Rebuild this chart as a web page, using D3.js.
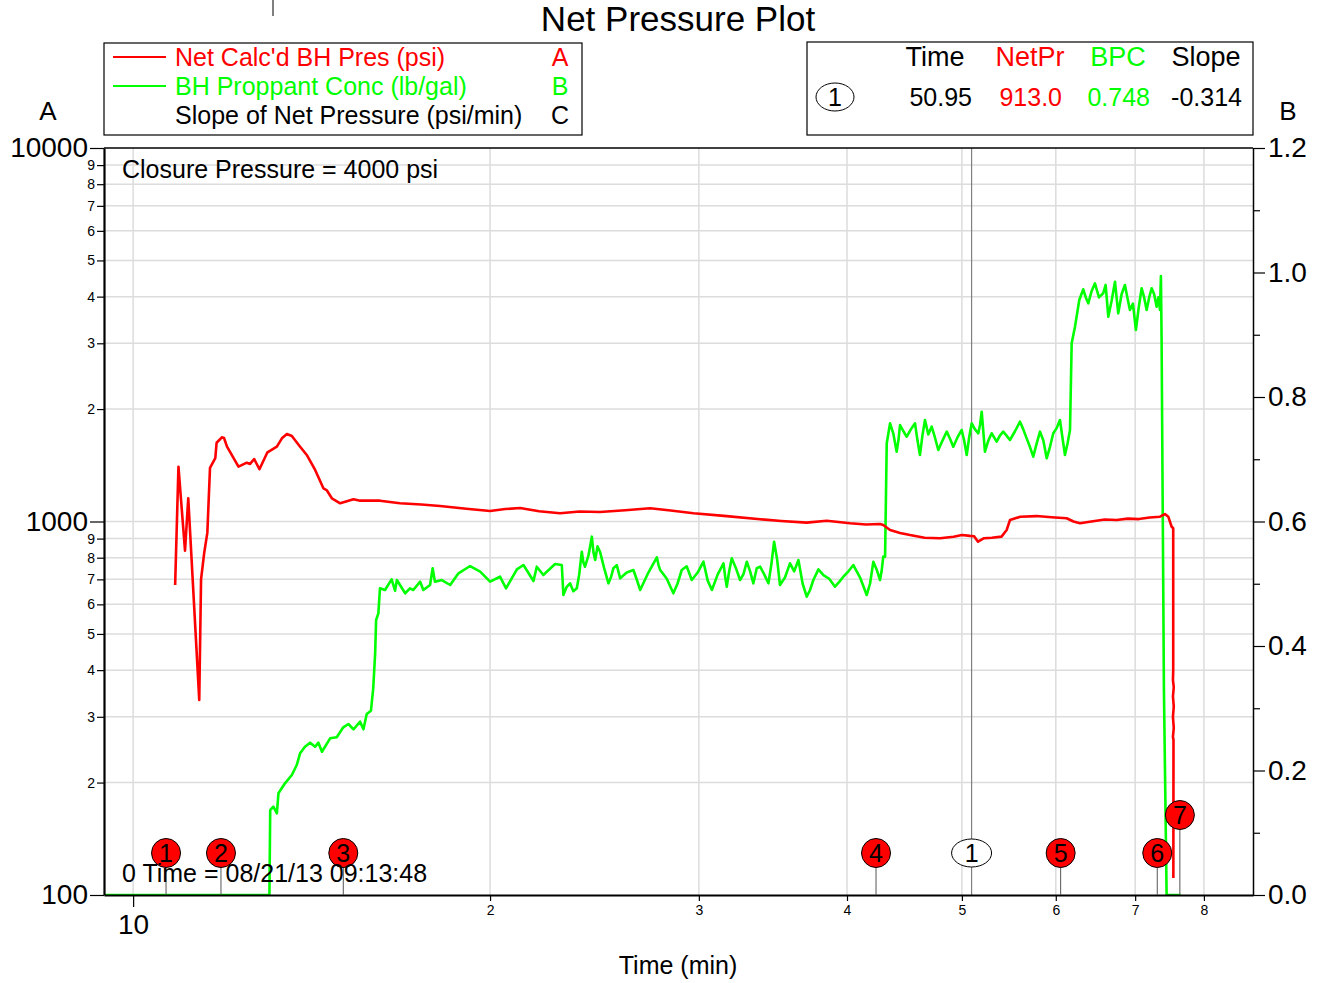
<!DOCTYPE html>
<html>
<head>
<meta charset="utf-8">
<script src="https://cdn.jsdelivr.net/npm/d3@7"></script>
<style>
  body { margin: 0; background: #fff; }
  text { font-family: "Liberation Sans", Arial, sans-serif; }
</style>
</head>
<body>
<svg id="chart"></svg>
<script>
// Net Calc'd BH Pres (psi) -- axis A (log)
const netTime = [10.85,10.92,11.06,11.13,11.37,11.41,11.48,11.55,11.61,11.73,11.76,11.88,11.93,12.00,12.27,12.47,12.55,12.65,12.78,12.98,13.22,13.35,13.48,13.61,13.83,14.01,14.24,14.47,14.56,14.71,14.95,15.34,15.54,16.15,16.79,17.5,18.15,19.1,20.00,20.6,21.20,22.0,22.91,23.8,24.76,26.0,27.29,28.4,29.69,31.5,33.79,35.2,36.99,38.46,40.24,41.5,42.65,42.92,43.49,44.34,45.21,46.5,47.92,49.2,50.0,50.79,51.2,51.59,52.2,53.0,54.0,54.54,54.89,56.0,57.81,59.5,61.28,62.1,62.88,64.5,66.0,67.53,69.0,70.5,72.0,73.46,74.17,74.65,75.14,75.37,75.37,75.33,75.45,75.33,75.45,75.33,75.45,75.33,75.41,75.39];
const netPres = [676,1402,835,1154,333,700,824,932,1391,1479,1625,1680,1673,1586,1402,1437,1426,1470,1380,1532,1586,1670,1715,1694,1586,1507,1374,1227,1214,1154,1119,1147,1137,1137,1119,1110,1100,1082,1067,1080,1087,1065,1052,1064,1060,1072,1085,1070,1052,1035,1014,1003,993,1005,989,982,985,979,949,932,920,905,902,910,920,915,913,883,902,905,911,949,1009,1030,1034,1027,1020,1000,989,1002,1012,1009,1018,1015,1025,1030,1047,1030,968,959,400,376,360,340,320,300,280,265,260,111];

// BH Proppant Conc (lb/gal) -- axis B (linear)
const bpcTime = [
  9.45,13.03,13.05,13.13,13.22,13.26,13.43,13.61,13.74,13.83,13.96,14.10,14.24,14.33,14.43,14.66,14.85,15.04,15.19,15.34,15.54,15.64,15.74,15.87,15.94,16.00,16.03,16.10,16.15,16.31,16.52,16.63,16.69,16.96,17.12,17.23,17.46,17.57,17.80,17.89,17.97,18.21,18.51,18.81,19.24,19.62,20.00,20.39,20.63,21.07,21.34,21.76,21.90,22.18,22.69,22.99,
  23.06,23.21,23.36,23.51,23.67,23.78,23.90,23.97,24.05,24.21,24.37,24.45,24.53,24.64,24.76,24.96,25.17,25.29,25.41,25.58,25.75,26.08,26.42,26.60,26.77,27.20,27.65,27.74,27.83,28.19,28.55,28.78,29.02,29.30,29.59,29.93,30.27,30.52,30.77,31.12,31.47,31.57,31.67,31.82,31.98,32.24,32.50,32.71,32.93,33.14,33.35,33.57,33.79,34.06,34.34,34.53,34.72,34.92,35.12,35.46,35.81,36.10,36.40,36.70,36.99,37.23,37.47,37.84,38.21,38.64,39.08,39.40,39.72,40.11,40.50,41.03,41.56,41.83,42.10,42.37,42.65,42.78,42.92,43.07,
  43.21,43.49,43.76,44.05,44.20,44.34,44.63,44.92,45.28,45.65,45.87,46.09,46.31,46.54,46.84,47.15,47.45,47.76,48.15,48.55,48.86,49.17,49.57,49.98,50.22,50.47,50.71,50.96,51.29,51.62,51.79,51.96,52.29,52.63,52.98,53.23,53.49,53.83,54.18,54.53,54.89,55.43,55.97,56.33,56.70,57.06,57.43,57.81,58.19,58.57,58.95,59.33,59.71,60.10,60.49,60.78,61.08,61.38,61.68,
  61.88,62.28,62.80,63.29,63.60,63.91,64.32,64.74,65.25,65.79,66.10,66.44,66.88,67.31,67.52,67.74,68.18,68.62,68.95,69.29,69.70,70.10,70.50,70.89,71.23,71.58,71.93,72.28,72.63,72.98,73.22,73.46,73.59,73.65,73.69,74.02,74.41,76.50
];
const bpcConc = [
  0,0,0.1365,0.1418,0.1312,0.1634,0.1794,0.1928,0.2088,0.2276,0.2382,0.2447,0.2382,0.2447,0.2302,0.2517,0.2533,0.2694,0.2747,0.2662,0.2784,0.2662,0.2908,0.2961,0.3320,0.3883,0.4418,0.4525,0.4927,0.4900,0.5071,0.4888,0.5060,0.4847,0.4927,0.4900,0.5033,0.4900,0.4980,0.5248,0.5033,0.5060,0.4980,0.5168,0.5285,0.5194,0.5033,0.5113,0.4927,0.5232,0.5301,0.5044,0.5274,0.5140,0.5317,0.5301,
  0.4819,0.4950,0.5007,0.4880,0.4927,0.5150,0.5515,0.5350,0.5274,0.5450,0.5756,0.5500,0.5381,0.5600,0.5515,0.5250,0.5007,0.5100,0.5248,0.5300,0.5087,0.5180,0.5221,0.5060,0.4900,0.5180,0.5425,0.5300,0.5221,0.5080,0.4847,0.5000,0.5221,0.5280,0.5060,0.5180,0.5354,0.5050,0.4900,0.5150,0.5328,0.5120,0.4953,0.5200,0.5409,0.5250,0.5060,0.5150,0.5354,0.5200,0.5007,0.5250,0.5274,0.5150,0.5007,0.5300,0.5675,0.5400,0.4980,0.5100,0.5328,0.5200,0.5381,0.5000,0.4792,0.4900,0.5060,0.5230,0.5140,0.5080,0.4953,0.5030,0.5113,0.5200,0.5301,0.5100,0.4819,0.5000,0.5354,0.5230,0.5060,0.5200,0.5435,0.5435,
  0.7256,0.7577,0.7417,0.7121,0.7300,0.7550,0.7450,0.7362,0.7480,0.7577,0.7300,0.7068,0.7380,0.7630,0.7400,0.7523,0.7350,0.7148,0.7300,0.7443,0.7330,0.7202,0.7350,0.7470,0.7300,0.7068,0.7350,0.7577,0.7480,0.7417,0.7550,0.7764,0.7121,0.7300,0.7417,0.7350,0.7282,0.7380,0.7443,0.7380,0.7309,0.7450,0.7603,0.7480,0.7336,0.7200,0.7041,0.7250,0.7443,0.7300,0.7015,0.7200,0.7417,0.7500,0.7630,0.7350,0.7068,0.7250,0.7470,
  0.8863,0.9129,0.9558,0.9730,0.9600,0.9505,0.9700,0.9826,0.9600,0.9666,0.9800,0.9290,0.9550,0.9852,0.9600,0.9344,0.9650,0.9799,0.9600,0.9397,0.9500,0.9076,0.9450,0.9746,0.9600,0.9397,0.9600,0.9746,0.9650,0.9451,0.9600,0.9397,0.9944,0.9317,0.8890,0.3316,0,0
];

// axes
const xMajorTicks = [10];
const xMinorTicks = [20, 30, 40, 50, 60, 70, 80];
const leftMajorTicks = [100, 1000, 10000];
const leftMinorTicks = [200, 300, 400, 500, 600, 700, 800, 900, 2000, 3000, 4000, 5000, 6000, 7000, 8000, 9000];
const rightMajorTicks = [0, 0.2, 0.4, 0.6, 0.8, 1.0, 1.2];
const rightMinorTicks = [0.1, 0.3, 0.5, 0.7, 0.9, 1.1];

// event markers and cursor
const eventTimes = [10.66, 11.86, 15.04, 42.32, 60.57, 73.07, 76.35];
const eventLabels = ['1', '2', '3', '4', '5', '6', '7'];
const eventRaised = [0, 0, 0, 0, 0, 0, 1];
const cursorTime = 50.95;
const cursorHeaders = ['Time', 'NetPr', 'BPC', 'Slope'];
const cursorValues = ['50.95', '913.0', '0.748', '-0.314'];

const legendLabels = ["Net Calc'd BH Pres (psi)", 'BH Proppant Conc (lb/gal)', 'Slope of Net Pressure (psi/min)'];
const legendAxes = ['A', 'B', 'C'];

const RED = '#ff0000', GREEN = '#00ff00';
const W = 1326, H = 983;
const margin = { top: 148, right: 73, bottom: 88, left: 104 };
const FONT = '"Liberation Sans", Arial, sans-serif';

const svg = d3.select('#chart').attr('width', W).attr('height', H);
svg.append('rect').attr('width', W).attr('height', H).attr('fill', '#fff');

const x = d3.scaleLog().domain([9.45, 88]).range([margin.left, W - margin.right]);
const yL = d3.scaleLog().domain([100, 10000]).range([H - margin.bottom, margin.top]);
const yR = d3.scaleLinear().domain([0, 1.2]).range([H - margin.bottom, margin.top]);
const x0 = margin.left, x1 = W - margin.right, yb = H - margin.bottom, yt = margin.top;

// grid
const grid = svg.append('g').attr('stroke', '#dcdcdc').attr('stroke-width', 1.5);
grid.selectAll('.gx').data(xMajorTicks.concat(xMinorTicks)).enter().append('line')
  .attr('x1', d => x(d)).attr('x2', d => x(d)).attr('y1', yt).attr('y2', yb);
grid.selectAll('.gy').data(leftMinorTicks.concat([1000])).enter().append('line')
  .attr('x1', x0).attr('x2', x1).attr('y1', d => yL(d)).attr('y2', d => yL(d));

// cursor line
svg.append('line').attr('x1', x(cursorTime)).attr('x2', x(cursorTime))
  .attr('y1', yt).attr('y2', yb).attr('stroke', '#808080').attr('stroke-width', 1.2);

// clip
svg.append('clipPath').attr('id', 'plotClip').append('rect')
  .attr('x', x0).attr('y', yt).attr('width', x1 - x0).attr('height', yb - yt);

const bpcData = bpcTime.map((t, i) => [t, bpcConc[i]]);
const netData = netTime.map((t, i) => [t, netPres[i]]);

svg.append('path').datum(bpcData)
  .attr('clip-path', 'url(#plotClip)')
  .attr('fill', 'none').attr('stroke', GREEN).attr('stroke-width', 2.6)
  .attr('stroke-linejoin', 'round')
  .attr('d', d3.line().x(d => x(d[0])).y(d => yR(d[1])));

svg.append('path').datum(netData)
  .attr('clip-path', 'url(#plotClip)')
  .attr('fill', 'none').attr('stroke', RED).attr('stroke-width', 2.6)
  .attr('stroke-linejoin', 'round')
  .attr('d', d3.line().x(d => x(d[0])).y(d => yL(d[1])));

// axes
function styleAxis(g, size) {
  g.attr('font-family', FONT).attr('font-size', size);
  g.selectAll('line').attr('stroke', '#000').attr('stroke-width', 1.2);
  g.selectAll('text').attr('fill', '#000');
}

svg.append('g').attr('transform', `translate(${x0},0)`)
  .call(d3.axisLeft(yL).tickValues(leftMajorTicks).tickSize(14).tickSizeOuter(0).tickPadding(2).tickFormat(d3.format('d')))
  .call(g => styleAxis(g, 28))
  .call(g => g.select('.domain').attr('stroke', '#000').attr('stroke-width', 2.2));
svg.append('g').attr('transform', `translate(${x0},0)`)
  .call(d3.axisLeft(yL).tickValues(leftMinorTicks).tickSize(7).tickPadding(2).tickFormat(d => String(d).charAt(0)))
  .call(g => styleAxis(g, 14))
  .call(g => g.select('.domain').remove());

svg.append('g').attr('transform', `translate(${x1},0)`)
  .call(d3.axisRight(yR).tickValues(rightMajorTicks).tickSize(12).tickSizeOuter(0).tickPadding(3).tickFormat(d3.format('.1f')))
  .call(g => styleAxis(g, 28))
  .call(g => g.select('.domain').attr('stroke', '#000').attr('stroke-width', 1.5));
svg.append('g').attr('transform', `translate(${x1},0)`)
  .call(d3.axisRight(yR).tickValues(rightMinorTicks).tickSize(7).tickFormat(''))
  .call(g => styleAxis(g, 14))
  .call(g => g.select('.domain').remove());

svg.append('g').attr('transform', `translate(0,${yb})`)
  .call(d3.axisBottom(x).tickValues(xMajorTicks).tickSize(12).tickSizeOuter(0).tickPadding(7).tickFormat(d3.format('d')))
  .call(g => styleAxis(g, 28))
  .call(g => g.select('.domain').attr('stroke', '#000').attr('stroke-width', 2.2));
svg.append('g').attr('transform', `translate(0,${yb})`)
  .call(d3.axisBottom(x).tickValues(xMinorTicks).tickSize(6).tickPadding(4).tickFormat(d => String(d).charAt(0)))
  .call(g => styleAxis(g, 14))
  .call(g => g.select('.domain').remove());

// top frame line
svg.append('line').attr('x1', x0).attr('x2', x1).attr('y1', yt).attr('y2', yt)
  .attr('stroke', '#000').attr('stroke-width', 1.5);

// event markers
const ev = svg.append('g').selectAll('g').data(eventTimes).enter().append('g')
  .attr('transform', (d, i) => `translate(${x(d)},${yb - 42 - eventRaised[i] * 38})`);
ev.append('line').attr('x1', 0).attr('x2', 0).attr('y1', 14)
  .attr('y2', (d, i) => 42 + eventRaised[i] * 38)
  .attr('stroke', '#555').attr('stroke-width', 1);
ev.append('circle').attr('r', 14.5).attr('fill', RED).attr('stroke', '#000').attr('stroke-width', 1);
ev.append('text').attr('text-anchor', 'middle').attr('y', 9).attr('font-size', 25)
  .attr('fill', '#000').text((d, i) => eventLabels[i]);

// cursor marker
const cm = svg.append('g').attr('transform', `translate(${x(cursorTime)},${yb - 42})`);
cm.append('ellipse').attr('rx', 20).attr('ry', 14).attr('fill', '#fff').attr('stroke', '#000').attr('stroke-width', 1);
cm.append('text').attr('text-anchor', 'middle').attr('y', 9).attr('font-size', 25).text('1');

// annotations
svg.append('text').attr('x', 122).attr('y', 178).attr('font-size', 25).text('Closure Pressure = 4000 psi');
svg.append('text').attr('x', 122).attr('y', 882).attr('font-size', 25).text('0 Time = 08/21/13 09:13:48');

// titles
svg.append('text').attr('x', 678).attr('y', 31).attr('text-anchor', 'middle').attr('font-size', 35).text('Net Pressure Plot');
svg.append('text').attr('x', 678).attr('y', 974).attr('text-anchor', 'middle').attr('font-size', 25).text('Time (min)');
svg.append('text').attr('x', 48).attr('y', 120).attr('text-anchor', 'middle').attr('font-size', 26).text('A');
svg.append('text').attr('x', 1288).attr('y', 120).attr('text-anchor', 'middle').attr('font-size', 26).text('B');
svg.append('line').attr('x1', 273).attr('x2', 273).attr('y1', 0).attr('y2', 16).attr('stroke', '#000').attr('stroke-width', 1);

// legend box
const legendColors = [RED, GREEN, '#000'];
svg.append('rect').attr('x', 104).attr('y', 43).attr('width', 478).attr('height', 92)
  .attr('fill', '#fff').attr('stroke', '#000').attr('stroke-width', 1.2);
const lg = svg.append('g').selectAll('g').data(legendLabels).enter().append('g')
  .attr('transform', (d, i) => `translate(0,${66 + i * 29})`);
lg.filter((d, i) => i < 2).append('line').attr('x1', 113).attr('x2', 166).attr('y1', -9).attr('y2', -9)
  .attr('stroke', (d, i) => legendColors[i]).attr('stroke-width', 2.2);
lg.append('text').attr('x', 175).attr('font-size', 25).attr('fill', (d, i) => legendColors[i]).text(d => d);
lg.append('text').attr('x', 560).attr('text-anchor', 'middle').attr('font-size', 25)
  .attr('fill', (d, i) => legendColors[i]).text((d, i) => legendAxes[i]);

// cursor readout box
const infoColors = ['#000', RED, GREEN, '#000'];
const headerX = [935, 1030, 1118, 1206];
const valueX = [972, 1062, 1150, 1242];
svg.append('rect').attr('x', 807).attr('y', 42).attr('width', 446).attr('height', 93)
  .attr('fill', '#fff').attr('stroke', '#000').attr('stroke-width', 1.2);
svg.append('g').selectAll('text').data(cursorHeaders).enter().append('text')
  .attr('x', (d, i) => headerX[i]).attr('y', 66).attr('text-anchor', 'middle').attr('font-size', 27)
  .attr('fill', (d, i) => infoColors[i]).text(d => d);
svg.append('g').selectAll('text').data(cursorValues).enter().append('text')
  .attr('x', (d, i) => valueX[i]).attr('y', 106).attr('text-anchor', 'end').attr('font-size', 25)
  .attr('fill', (d, i) => infoColors[i]).text(d => d);
svg.append('ellipse').attr('cx', 835).attr('cy', 97).attr('rx', 19).attr('ry', 14)
  .attr('fill', '#fff').attr('stroke', '#000').attr('stroke-width', 1);
svg.append('text').attr('x', 835).attr('y', 106).attr('text-anchor', 'middle').attr('font-size', 25).text('1');
</script>
</body>
</html>
